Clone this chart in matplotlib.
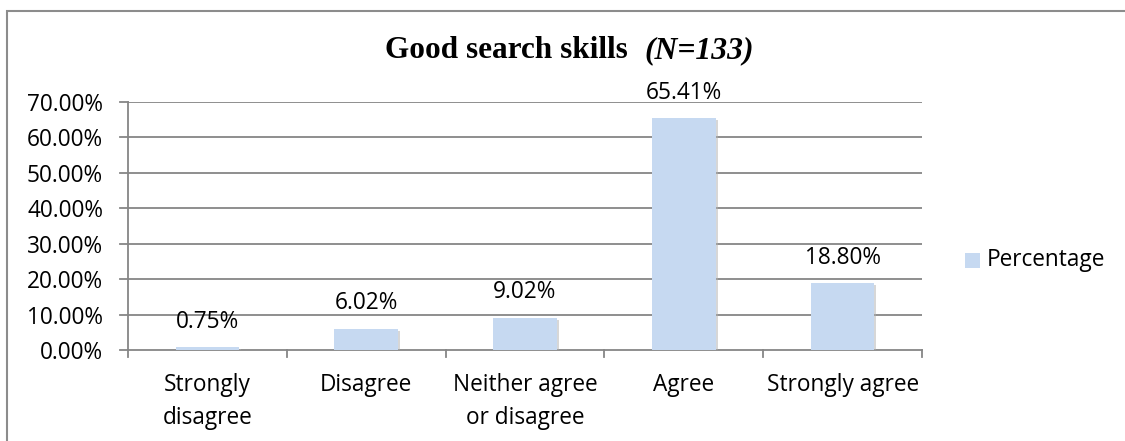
import matplotlib
matplotlib.use("Agg")
import matplotlib.pyplot as plt
from matplotlib.patches import Rectangle
import matplotlib.patheffects as pe

categories = ["Strongly\ndisagree", "Disagree", "Neither agree\nor disagree", "Agree", "Strongly agree"]
values = [0.75, 6.02, 9.02, 65.41, 18.80]
yticks = [0, 10, 20, 30, 40, 50, 60, 70]
series_name = "Percentage"

W, H = 1125, 441
fig = plt.figure(figsize=(W / 100, H / 100), dpi=100)
fig.patch.set_facecolor("white")

# outer chart border
fig.patches.append(Rectangle((7 / W, -0.05), 1.2, (H - 11) / H + 0.05,
                             transform=fig.transFigure, fill=False,
                             edgecolor="#8c8c8c", linewidth=1.5))

left, right, top, bottom = 128, 922, 102, 350
ax = fig.add_axes([left / W, 1 - bottom / H, (right - left) / W, (bottom - top) / H])

bar_color = "#c6d9f1"
grid_color = "#868686"
font = "Open Sans"
fs = 16.3

x = list(range(len(categories)))
bars = ax.bar(x, values, width=0.4, color=bar_color, zorder=3,
              path_effects=[pe.SimplePatchShadow(offset=(1.5, -1.5), shadow_rgbFace="#b0b0b0", alpha=0.5), pe.Normal()])

ax.set_xlim(-0.5, len(categories) - 0.5)
ax.set_ylim(0, 70)
ax.set_yticks(yticks)
ax.set_yticklabels([f"{v:.2f}%" for v in yticks], fontfamily=font, fontsize=fs)
ax.set_xticks(x)
ax.set_xticklabels(categories, fontfamily=font, fontsize=fs, linespacing=1.52)
ax.tick_params(axis="x", length=0, pad=16.5)
ax.tick_params(axis="y", length=0, pad=18)

# gridlines
for v in yticks[1:]:
    ax.axhline(v, color=grid_color, linewidth=1.3, zorder=1)
for s in ["top", "right"]:
    ax.spines[s].set_visible(False)
ax.spines["left"].set_color(grid_color)
ax.spines["bottom"].set_color(grid_color)
ax.spines["left"].set_linewidth(1.3)
ax.spines["bottom"].set_linewidth(1.3)

# y tick marks (outside left)
for v in yticks:
    ax.plot([-0.5 - 8 / 158.8, -0.5], [v, v], color=grid_color, lw=1.3, clip_on=False, zorder=2)
# x tick marks at category boundaries
for b in [i - 0.5 for i in range(len(categories) + 1)]:
    ax.plot([b, b], [0, -7 * 70 / 248], color=grid_color, lw=1.3, clip_on=False, zorder=2)

for xi, v in zip(x, values):
    ax.annotate(f"{v:.2f}%", (xi, v), xytext=(0, 18.5), textcoords="offset points",
                ha="center", va="center", fontfamily=font, fontsize=fs, zorder=4)

# title
fig.text(385 / W, 1 - 58 / H, "Good search skills", ha="left", va="baseline",
         fontfamily="Liberation Serif", fontweight="bold", fontsize=22.5)
fig.text(644 / W, 1 - 58 / H, "(N=133)", ha="left", va="baseline",
         fontfamily="Liberation Serif", fontweight="bold", fontstyle="italic", fontsize=22.8)

# legend
fig.patches.append(Rectangle((965 / W, 1 - 268 / H), 15 / W, 15 / H, transform=fig.transFigure,
                             facecolor=bar_color, edgecolor="none"))
fig.text(987 / W, 1 - 260 / H, series_name, ha="left", va="center", fontfamily=font, fontsize=fs)

fig.savefig("out.png", dpi=100)
